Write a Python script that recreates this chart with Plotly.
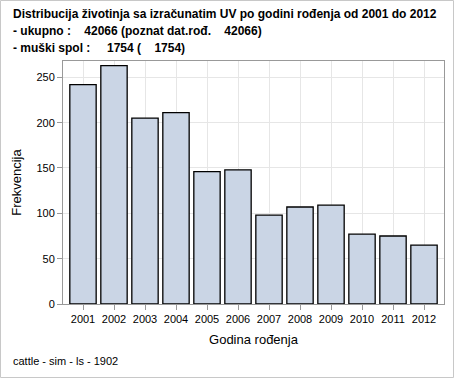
import plotly.graph_objects as go

years = ["2001", "2002", "2003", "2004", "2005", "2006", "2007", "2008", "2009", "2010", "2011", "2012"]
freq = [242, 263, 205, 211, 146, 148, 98, 107, 109, 77, 75, 65]
title_lines = [
    "Distribucija životinja sa izračunatim UV po godini rođenja od 2001 do 2012",
    "- ukupno :    42066 (poznat dat.rođ.    42066)",
    "- muški spol :     1754 (    1754)",
]
footnote = "cattle - sim - ls - 1902"
x_title = "Godina rođenja"
y_title = "Frekvencija"
y_ticks = [0, 50, 100, 150, 200, 250]

W, H = 454, 378
ml, mr, mt, mb = 63, 10, 61, 74
pw, ph = W - ml - mr, H - mt - mb

def px(x):
    return (x - ml) / pw

def py(y):
    return (H - mb - y) / ph

FONT = "Liberation Sans, Arial, sans-serif"

fig = go.Figure(go.Bar(
    x=list(range(len(years))), y=freq, width=0.85,
    marker=dict(color="#cad5e5", line=dict(color="black", width=1.3)),
))

annotations = []
for i, t in enumerate(title_lines):
    annotations.append(dict(
        text="<b>" + t.replace(" ", "\u00a0") + "</b>", x=px(11), y=py(14 + 17 * i),
        xref="paper", yref="paper", xanchor="left", yanchor="middle",
        showarrow=False, font=dict(family=FONT, size=12, color="black")))
annotations.append(dict(
    text=footnote, x=px(11), y=py(361), xref="paper", yref="paper",
    xanchor="left", yanchor="middle", showarrow=False,
    font=dict(family=FONT, size=11, color="black")))

fig.update_layout(
    width=W, height=H, margin=dict(l=ml, r=mr, t=mt, b=mb),
    paper_bgcolor="white", plot_bgcolor="white", showlegend=False,
    font=dict(family=FONT, size=11, color="black"),
    annotations=annotations,
    shapes=[dict(type="rect", xref="paper", yref="paper",
                 x0=px(0.5), x1=px(W - 0.5), y0=py(H - 0.5), y1=py(0.5),
                 line=dict(color="#c8c8c8", width=1), layer="below")],
    xaxis=dict(
        tickmode="array", tickvals=list(range(len(years))), ticktext=years,
        range=[-0.645, 11.645], showgrid=True, gridcolor="#e6e6e6",
        ticks="outside", ticklen=5, tickcolor="#999999",
        showline=True, linecolor="#999999", mirror=True, zeroline=False,
        title=dict(text=x_title, font=dict(size=13), standoff=10),
        tickfont=dict(size=11)),
    yaxis=dict(
        tickvals=y_ticks, range=[0, 268], showgrid=True, gridcolor="#e6e6e6",
        ticks="outside", ticklen=5, tickcolor="#999999",
        showline=True, linecolor="#999999", mirror=True, zeroline=False,
        title=dict(text=y_title, font=dict(size=13), standoff=11),
        tickfont=dict(size=11)),
)

fig.write_html("out.html")
